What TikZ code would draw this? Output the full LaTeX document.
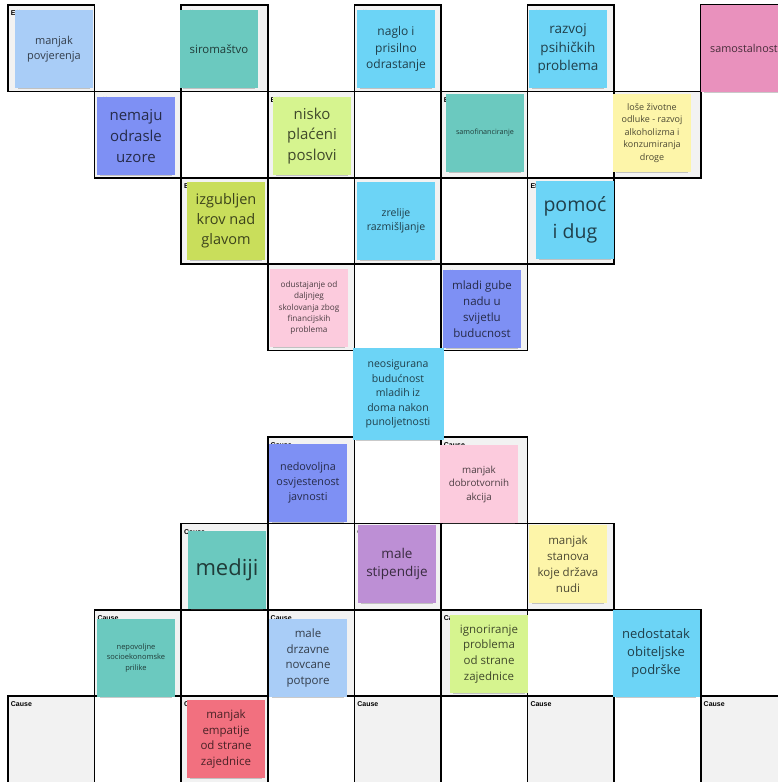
\documentclass[tikz,border=0pt]{standalone}
\usepackage{fontspec}
\setmainfont{Open Sans}
\newfontfamily\tagfont{Liberation Sans}
\usetikzlibrary{shadows}

\definecolor{cellgray}{HTML}{F2F2F2}
\definecolor{noteblue}{HTML}{A9CDF7}
\definecolor{noteteal}{HTML}{6BC9BF}
\definecolor{notecyan}{HTML}{6CD4F6}
\definecolor{notemagenta}{HTML}{E991BD}
\definecolor{noteviolet}{HTML}{7E90F4}
\definecolor{notelime}{HTML}{D6F48F}
\definecolor{noteolive}{HTML}{C9DE5B}
\definecolor{noteyellow}{HTML}{FDF5A9}
\definecolor{notepink}{HTML}{FCCBDD}
\definecolor{notepurple}{HTML}{BD8FD5}
\definecolor{notered}{HTML}{F2707F}

\newcommand{\notesize}[1]{\fontsize{#1}{\fpeval{1.38*#1}}\selectfont}

\begin{document}
\begin{tikzpicture}[
        x=1pt, y=-1pt,
        cell/.style={draw,line width=1.6pt,fill=cellgray,minimum width=86.6pt,minimum height=86.4pt,inner sep=0pt},
        cell tag/.style={anchor=north west,inner xsep=3.5pt,inner ysep=6.5pt,font=\tagfont\bfseries\fontsize{7}{8}\selectfont},
        effect cell/.style={cell,label={[cell tag]north west:Effect}},
        cause cell/.style={cell,label={[cell tag]north west:Cause}},
        note/.style={fill=#1,text=#1!30!black,align=center,minimum width=78pt,minimum height=78pt,inner sep=1pt,
            drop shadow={shadow xshift=0pt,shadow yshift=-4.5pt,shadow scale=.93,opacity=.35,fill=black!60}},
    ]
    \useasboundingbox (0,0) rectangle (778,782);
    \clip (0,0) rectangle (778,782);
    \fill[white] (0,0) rectangle (778,782);

    % effect and cause cells
    \foreach \r/\cols in {0/{0,2,4,6,8},1/{1,3,5,7},2/{2,4,6},3/{3,5}}
        \foreach \c in \cols
            \node[effect cell] (e\r\c) at ({8+86.6*(\c+.5)},{5+86.4*(\r+.5)}) {};
    \foreach \r/\cols in {5/{3,5},6/{2,4,6},7/{1,3,5,7},8/{0,2,4,6,8}}
        \foreach \c in \cols
            \node[cause cell] (c\r\c) at ({8+86.6*(\c+.5)},{5+86.4*(\r+.5)}) {};

    % effects
    \node[note=noteblue,font=\notesize{11}] (povjerenje) at (54,49) {manjak\\povjerenja};
    \node[note=noteteal,font=\notesize{11.4}] (siromastvo) at (219,49) {siromaštvo};
    \node[note=notecyan,font=\notesize{12}] (odrastanje) at (396,49) {naglo i\\prisilno\\odrastanje};
    \node[note=notecyan,font=\notesize{13.5}] (psiha) at (568,49) {razvoj\\psihičkih\\problema};
    \node[note=notemagenta,font=\notesize{10.8},minimum width=86pt,minimum height=87pt] (samostalnost) at (744,48.5) {samostalnost};
    \node[note=noteviolet,font=\notesize{15}] (uzori) at (136,136) {nemaju\\odrasle\\uzore};
    \node[note=notelime,font=\notesize{15}] (poslovi) at (312,136) {nisko\\plaćeni\\poslovi};
    \node[note=noteteal,font=\notesize{7.2}] (samofinanciranje) at (485,133) {samofinanciranje};
    \node[note=noteyellow,font=\notesize{9}] (odluke) at (652,133) {loše životne\\odluke - razvoj\\alkoholizma i\\konzumiranja\\droge};
    \node[note=noteolive,font=\notesize{14.5}] (krov) at (226,221) {izgubljen\\krov nad\\glavom};
    \node[note=notecyan,font=\notesize{10.5}] (razmisljanje) at (396,221) {zrelije\\razmišljanje};
    \node[note=notecyan,font=\notesize{19.5}] (dug) at (575,220) {pomoć\\i dug};
    \node[note=notepink,font=\notesize{8.2}] (skolovanje) at (309,308) {odustajanje od\\daljnjeg\\skolovanja zbog\\financijskih\\problema};
    \node[note=noteviolet,font=\notesize{11.5}] (nada) at (482,309) {mladi gube\\nadu u\\svijetlu\\buducnost};

    % core problem
    \node[note=notecyan,font=\notesize{10.5},minimum width=91pt,minimum height=92pt] (problem) at (398,394) {neosigurana\\budućnost\\mladih iz\\doma nakon\\punoljetnosti};

    % causes
    \node[note=noteviolet,font=\notesize{10.8}] (javnost) at (308,483) {nedovoljna\\osvjestenost\\javnosti};
    \node[note=notepink,font=\notesize{9.8}] (akcije) at (479,484) {manjak\\dobrotvornih\\akcija};
    \node[note=noteteal,font=\notesize{22}] (mediji) at (227,570) {mediji};
    \node[note=notepurple,font=\notesize{13.5}] (stipendije) at (397,564) {male\\stipendije};
    \node[note=noteyellow,font=\notesize{11.5}] (stanovi) at (568,564) {manjak\\stanova\\koje država\\nudi};
    \node[note=noteteal,font=\notesize{7.5}] (prilike) at (136,658) {nepovoljne\\socioekonomske\\prilike};
    \node[note=noteblue,font=\notesize{11.5}] (potpore) at (308,658) {male\\drzavne\\novcane\\potpore};
    \node[note=notelime,font=\notesize{11.5}] (zajednica) at (489,654) {ignoriranje\\problema\\od strane\\zajednice};
    \node[note=notecyan,font=\notesize{13},minimum width=87pt,minimum height=87pt] (obitelj) at (656,653) {nedostatak\\obiteljske\\podrške};
    \node[note=notered,font=\notesize{11.5}] (empatija) at (226,739) {manjak\\empatije\\od strane\\zajednice};
\end{tikzpicture}
\end{document}
